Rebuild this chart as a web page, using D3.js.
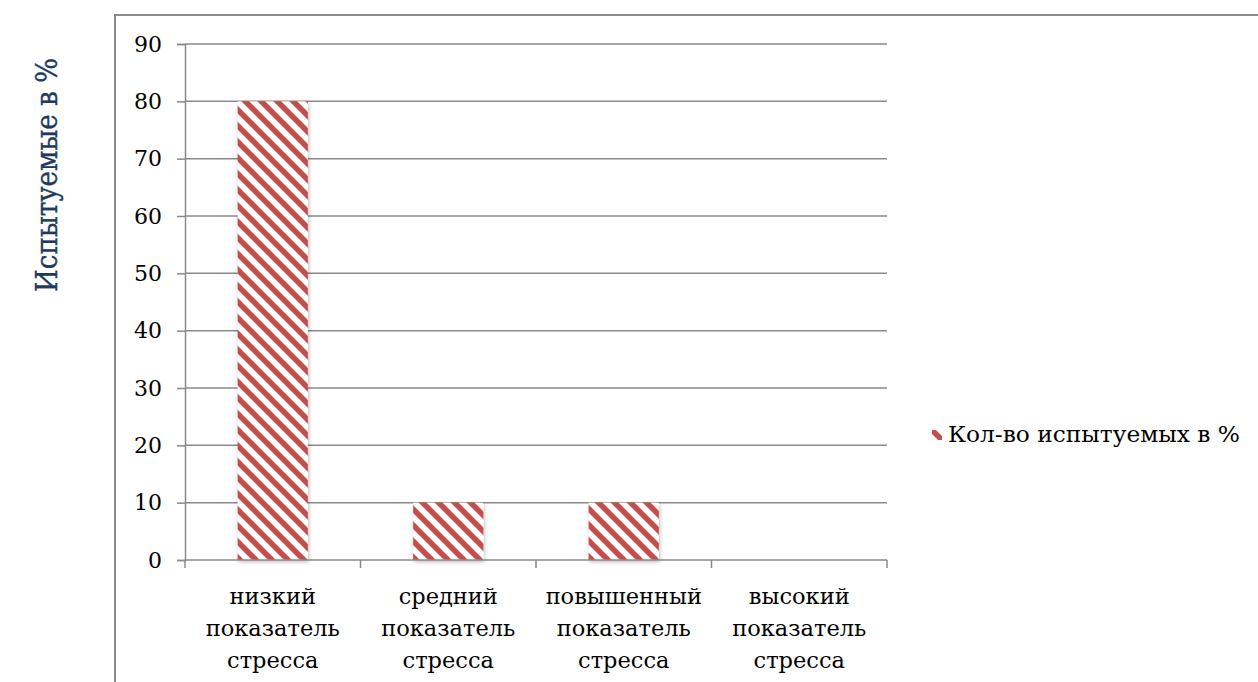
<!DOCTYPE html>
<html>
<head>
<meta charset="utf-8">
<script src="https://cdn.jsdelivr.net/npm/d3@7"></script>
<style>
  html, body { margin: 0; padding: 0; background: #fff; }
  svg { display: block; }
  text { font-family: "DejaVu Serif", serif; }
</style>
</head>
<body>
<svg id="chart" width="1258" height="682"></svg>
<script>
// Stress level distribution, share of participants (%)
const categories = [
  ["низкий", "показатель", "стресса"],
  ["средний", "показатель", "стресса"],
  ["повышенный", "показатель", "стресса"],
  ["высокий", "показатель", "стресса"]
];
const values = [80, 10, 10, 0];
const yTicks = [0, 10, 20, 30, 40, 50, 60, 70, 80, 90];
const seriesName = "Кол-во испытуемых в %";
const yTitle = "Испытуемые в %";

const svg = d3.select("#chart");
const W = 1258, H = 682;
const plot = { left: 185, right: 887, top: 44, bottom: 560 };
const red = "#c0504d";
const gridColor = "#8a8a8a";

const defs = svg.append("defs");
const pat = defs.append("pattern")
  .attr("id", "stripes")
  .attr("patternUnits", "userSpaceOnUse")
  .attr("width", 16).attr("height", 16);
pat.append("rect").attr("width", 16).attr("height", 16).attr("fill", "#fff");
pat.append("path")
  .attr("d", "M-4,-4L20,20M-4,12L4,20M12,-4L20,4")
  .attr("stroke", red).attr("stroke-width", 5.5).attr("fill", "none");

const shadow = defs.append("filter").attr("id", "shadow")
  .attr("x", "-20%").attr("y", "-5%").attr("width", "140%").attr("height", "115%");
shadow.append("feDropShadow")
  .attr("dx", 1).attr("dy", 2).attr("stdDeviation", 2)
  .attr("flood-color", "#000").attr("flood-opacity", 0.25);

// outer frame
svg.append("path")
  .attr("d", `M115,${H + 5}V15H${W + 5}`)
  .attr("fill", "none").attr("stroke", "#8c8c8c").attr("stroke-width", 2);

const x = d3.scaleBand()
  .domain(d3.range(categories.length))
  .range([plot.left, plot.right])
  .paddingInner(0.6).paddingOuter(0.3);

const y = d3.scaleLinear().domain([0, 90]).range([plot.bottom, plot.top]);

// horizontal gridlines
svg.append("g").selectAll("line").data(yTicks.filter(d => d > 0)).join("line")
  .attr("x1", plot.left).attr("x2", plot.right)
  .attr("y1", d => y(d)).attr("y2", d => y(d))
  .attr("stroke", gridColor).attr("stroke-width", 1.5);

// y axis
const yAxis = svg.append("g")
  .attr("transform", `translate(${plot.left},0)`)
  .call(d3.axisLeft(y).tickValues(yTicks).tickSize(8).tickPadding(15));
yAxis.select(".domain").attr("stroke", gridColor).attr("stroke-width", 1.5);
yAxis.selectAll(".tick line").attr("stroke", gridColor).attr("stroke-width", 1.5);
yAxis.selectAll(".tick text")
  .attr("font-family", "DejaVu Serif").attr("font-size", 22).attr("fill", "#000");

// bars
svg.append("g").selectAll("rect").data(values).join("rect")
  .attr("x", (d, i) => x(i))
  .attr("width", x.bandwidth())
  .attr("y", d => y(d))
  .attr("height", d => y(0) - y(d))
  .attr("fill", "url(#stripes)")
  .attr("filter", "url(#shadow)");

// x axis baseline and boundary ticks
const bounds = d3.range(categories.length + 1).map(i => plot.left + i * x.step());
svg.append("line")
  .attr("x1", plot.left).attr("x2", plot.right)
  .attr("y1", y(0)).attr("y2", y(0))
  .attr("stroke", gridColor).attr("stroke-width", 1.5);
svg.append("g").selectAll("line").data(bounds).join("line")
  .attr("x1", d => d).attr("x2", d => d)
  .attr("y1", y(0)).attr("y2", y(0) + 8)
  .attr("stroke", gridColor).attr("stroke-width", 1.5);

// category labels
const lbl = svg.append("g").selectAll("text").data(categories).join("text")
  .attr("text-anchor", "middle")
  .attr("font-size", 22.5).attr("fill", "#000")
  .attr("x", (d, i) => x(i) + x.bandwidth() / 2)
  .attr("y", 604);
lbl.selectAll("tspan").data(d => d).join("tspan")
  .attr("x", function () { return d3.select(this.parentNode).attr("x"); })
  .attr("dy", (d, i) => i === 0 ? 0 : 32)
  .text(d => d);

// y axis title
svg.append("text")
  .attr("transform", "translate(57,175) rotate(-90)")
  .attr("text-anchor", "middle")
  .attr("font-size", 30).attr("fill", "#1f3a60")
  .attr("stroke", "#1f3a60").attr("stroke-width", 0.4)
  .attr("textLength", 234).attr("lengthAdjust", "spacingAndGlyphs")
  .text(yTitle);

// legend
const leg = svg.append("g").attr("transform", "translate(932,430)");
leg.append("rect").attr("width", 10).attr("height", 10).attr("fill", "url(#stripes)");
leg.append("text").attr("x", 16).attr("y", 12)
  .attr("font-size", 22).attr("fill", "#000")
  .attr("textLength", 292).attr("lengthAdjust", "spacingAndGlyphs")
  .text(seriesName);
</script>
</body>
</html>
